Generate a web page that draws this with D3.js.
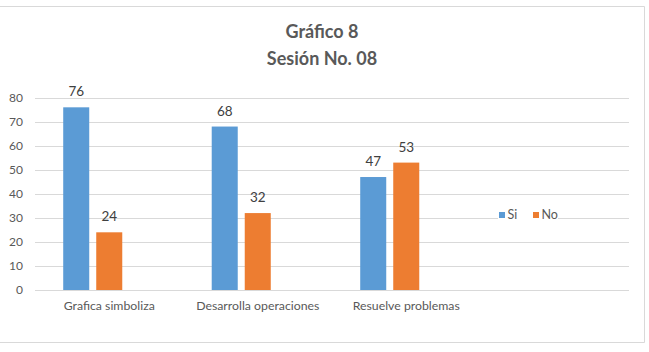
<!DOCTYPE html>
<html>
<head>
<meta charset="utf-8">
<script src="https://cdn.jsdelivr.net/npm/d3@7"></script>
<style>
  html, body { margin: 0; padding: 0; background: #fff; }
  svg { display: block; }
  text { font-family: Lato, "Open Sans", sans-serif; }
</style>
</head>
<body>
<svg id="chart" width="649" height="352"></svg>
<script>
const titleLines = ["Gráfico 8", "Sesión No. 08"];
const categories = ["Grafica simboliza", "Desarrolla operaciones", "Resuelve problemas"];
const seriesNames = ["Si", "No"];
const siValues = [76, 68, 47];
const noValues = [24, 32, 53];
const yTickValues = [0, 10, 20, 30, 40, 50, 60, 70, 80];
const colors = { Si: "#5B9BD5", No: "#ED7D31" };

const W = 649, H = 352;
const svg = d3.select("#chart");

// chart frame (top, right, bottom visible)
svg.append("path")
  .attr("d", "M0,6.5H644.5V342.5H0")
  .attr("fill", "none").attr("stroke", "#d9d9d9").attr("stroke-width", 1);

const plot = { left: 35, right: 629, top: 97.7, bottom: 290 };

const y = d3.scaleLinear().domain([0, 80]).range([plot.bottom, plot.top]);
// 4 category slots (last one empty, as in the original workbook)
const x0 = d3.scaleBand().domain([...categories, "__blank"]).range([plot.left, plot.right]).padding(0);
const bw = x0.bandwidth();
// 3 series slots (third one empty)
const x1 = d3.scaleBand().domain([...seriesNames, "__empty"])
  .range([bw * 0.19, bw * 0.81]).paddingInner(0.212).paddingOuter(0);

// gridlines
const grid = svg.append("g");
grid.selectAll("line").data(yTickValues).join("line")
  .attr("x1", plot.left).attr("x2", plot.right)
  .attr("y1", d => Math.round(y(d)) + 0.5).attr("y2", d => Math.round(y(d)) + 0.5)
  .attr("stroke", "#d9d9d9").attr("stroke-width", 1);

// y axis labels
const yAxis = d3.axisLeft(y).tickValues(yTickValues).tickSize(0).tickPadding(0);
const ya = svg.append("g").attr("transform", `translate(${plot.left - 12},0)`).call(yAxis);
ya.select(".domain").remove();
ya.selectAll("text").attr("fill", "#595959").style("font-size", "12px")
  .style("font-family", "Lato, sans-serif");

// x axis labels
const xAxis = d3.axisBottom(x0).tickValues(categories).tickSize(0).tickPadding(0);
const xa = svg.append("g").attr("transform", `translate(0,${plot.bottom + 11})`).call(xAxis);
xa.select(".domain").remove();
xa.selectAll("text").attr("fill", "#595959").style("font-size", "12.3px")
  .style("font-family", "Lato, sans-serif").attr("dy", "0.71em");

// bars
const rows = categories.map((c, i) => ({ cat: c, vals: [
  { key: "Si", value: siValues[i] }, { key: "No", value: noValues[i] }
]}));

const groups = svg.append("g").selectAll("g").data(rows).join("g")
  .attr("transform", d => `translate(${x0(d.cat)},0)`);

groups.selectAll("rect").data(d => d.vals).join("rect")
  .attr("x", d => x1(d.key)).attr("width", x1.bandwidth())
  .attr("y", d => y(d.value)).attr("height", d => y(0) - y(d.value))
  .attr("fill", d => colors[d.key]);

groups.selectAll("text.lbl").data(d => d.vals).join("text")
  .attr("class", "lbl")
  .attr("x", d => x1(d.key) + x1.bandwidth() / 2)
  .attr("y", d => y(d.value) - 11)
  .attr("text-anchor", "middle")
  .attr("fill", "#404040").style("font-size", "13.5px")
  .text(d => d.value);

// title
svg.append("g").selectAll("text").data(titleLines).join("text")
  .attr("x", 322).attr("y", (d, i) => 38 + i * 26.5)
  .attr("text-anchor", "middle")
  .attr("fill", "#595959").style("font-size", "18px").style("font-weight", "bold")
  .text(d => d);

// legend
const legend = svg.append("g").attr("transform", "translate(498,215)");
legend.append("rect").attr("x", 0).attr("y", -8).attr("width", 60).attr("height", 16).attr("fill", "#fff");
const items = legend.selectAll("g").data(seriesNames).join("g")
  .attr("transform", (d, i) => `translate(${1 + i * 34},0)`);
items.append("rect").attr("x", 0).attr("y", -3).attr("width", 6).attr("height", 6)
  .attr("fill", d => colors[d]);
items.append("text").attr("x", 8.5).attr("y", 0).attr("dy", "0.35em")
  .attr("fill", "#595959").style("font-size", "12.5px").text(d => d);
</script>
</body>
</html>
